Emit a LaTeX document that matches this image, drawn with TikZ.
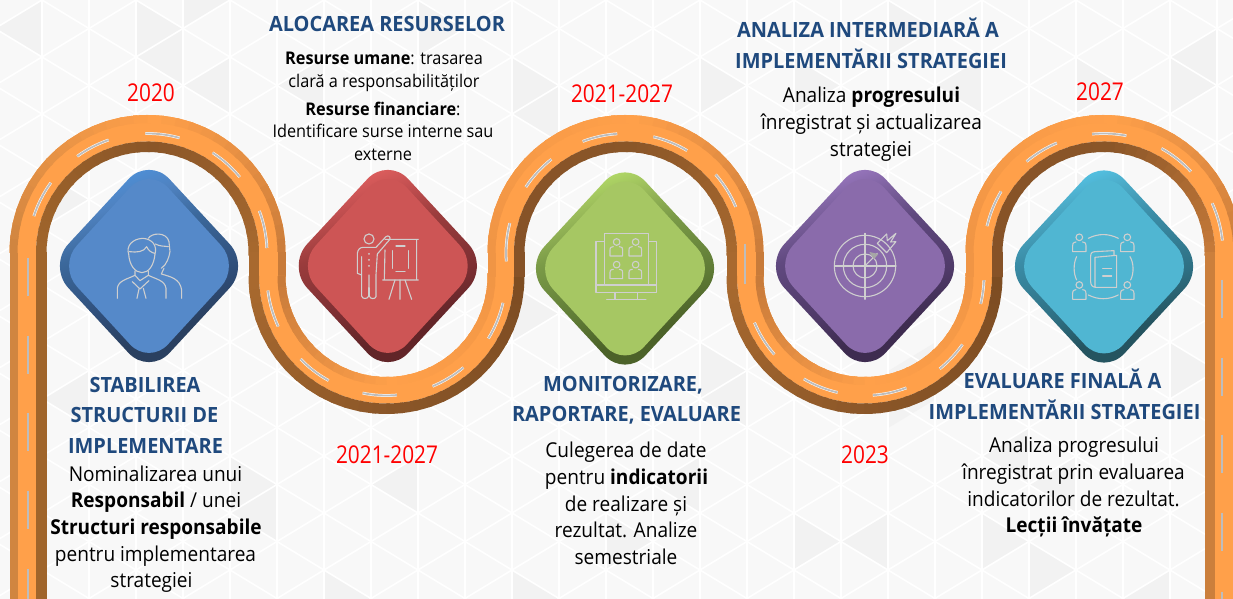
\documentclass[tikz,border=0pt]{standalone}
\usepackage{fontspec}
\setmainfont{Open Sans}[FakeStretch=0.93]
\newfontfamily\yearfont{Open Sans}[FakeStretch=0.85]
\newfontfamily\titlefont{Open Sans}[FakeStretch=0.95]
\definecolor{bgc}{HTML}{F8F8F8}
\definecolor{trc}{HTML}{F2F2F2}
\definecolor{titc}{HTML}{1F497D}
\definecolor{roadc}{HTML}{FFA04A}
\definecolor{iconc}{HTML}{CFCFCF}
\definecolor{dashc}{HTML}{BDBDBD}
\definecolor{eL}{HTML}{D08540}
\definecolor{eR}{HTML}{C87B3A}
\definecolor{eS}{HTML}{F09545}
\definecolor{bA}{HTML}{A0652B}
\definecolor{bM}{HTML}{8A5628}
\definecolor{bR}{HTML}{A8692F}
\definecolor{bD}{HTML}{7C4C22}
\definecolor{bS}{HTML}{865227}
% name, face, bright tip, upper left, upper right, lower left, lower right
\newcommand{\mybevel}[7]{%
  \definecolor{#1f}{HTML}{#2}\definecolor{#1b}{HTML}{#3}\definecolor{#1ul}{HTML}{#4}\definecolor{#1ur}{HTML}{#5}\definecolor{#1ll}{HTML}{#6}\definecolor{#1lr}{HTML}{#7}%
  \pgfdeclareverticalshading{#1sh}{100bp}{color(0bp)=(#1lr); color(34bp)=(#1lr); color(42.5bp)=(#1ll); color(57.5bp)=(#1ur); color(66bp)=(#1ul); color(73bp)=(#1b); color(100bp)=(#1b)}}
\mybevel{blue}{5589C9}{4E90D8}{4F82C0}{3B689B}{2F4D78}{2A4060}
\mybevel{red}{CD5555}{E0605F}{C24F50}{9A3C3C}{7A2E32}{622528}
\mybevel{green}{A6C763}{B4DC68}{9ABB5A}{7A9A47}{5E7A35}{4C6229}
\mybevel{purple}{8A6BAB}{9A78C0}{7E62A0}{60497F}{4F3A68}{3E2C50}
\mybevel{teal}{50B6D2}{55C4E6}{4AA8C4}{3A8CA6}{2E6F82}{255460}
% band along an arc: centre, radius, width, from, to, colours at start, middle, end
\newcommand{\roadband}[9]{%
  \foreach \i in {0,...,29}{%
    \pgfmathsetmacro{\aa}{#5+(#6-#5)*\i/30}%
    \pgfmathsetmacro{\ab}{#5+(#6-#5)*(\i+1.25)/30}%
    \pgfmathsetmacro{\pp}{\i<15 ? 100-\i*100/15 : 100-(\i-15)*100/15}%
    \ifnum\i<15 \colorlet{segc}{#7!\pp!#8}\else \colorlet{segc}{#8!\pp!#9}\fi
    \draw[line width=#4pt,segc] ({#1+#3*cos(\aa)},{#2-#3*sin(\aa)}) arc[start angle={-\aa},end angle={-\ab},radius=#3pt];
  }}
\newcommand{\jointv}[4]{% x, side, edge colour, brown colour
  \draw[line width=26.5pt,roadc] ({#1+#2*5.25},252) -- ({#1+#2*5.25},277);
  \draw[line width=8pt,#3] ({#1+#2*14.5},252) -- ({#1+#2*14.5},277);
  \draw[line width=10.5pt,#4] ({#1-#2*13.25},252) -- ({#1-#2*13.25},277);}
\newcommand{\markarc}[4]{%
  \draw[roadmark white] ({#1+119.5*cos(#3)},{#2-119.5*sin(#3)}) arc[start angle={-#3},end angle={-#4},radius=119.5pt];
  \draw[roadmark] ({#1+119.5*cos(#3)},{#2-119.5*sin(#3)}) arc[start angle={-#3},end angle={-#4},radius=119.5pt];}
\newcommand{\markv}[3]{%
  \draw[roadmark white] (#1,#2) -- (#1,#3);
  \draw[roadmark] (#1,#2) -- (#1,#3);}
\newcommand{\mydiam}[4]{% name, colour, cx, cy
  \path[shading=#2sh,shading angle=20,rounded corners=30pt] (#3-101,#4) -- (#3,#4-109) -- (#3+101,#4) -- (#3,#4+109) -- cycle;
  \path[fill=#2f,rounded corners=28pt] (#3-91,#4) -- (#3,#4-99) -- (#3+91,#4) -- (#3,#4+99) -- cycle;
  \coordinate (#1) at (#3,#4);}
\newcommand{\tline}[5]{\node[#4] (#1) at (#2,#3) {#5};}
\newcommand{\myperson}[2]{% zoom coordinates: head centre
  \draw[icon] (#1,#2) circle (10);
  \draw[icon] (#1-10,#2+14) .. controls (#1-20,#2+16) and (#1-20,#2+20) .. (#1-20,#2+25) -- (#1-20,#2+43) -- (#1+20,#2+43) -- (#1+20,#2+25) .. controls (#1+20,#2+20) and (#1+20,#2+16) .. (#1+10,#2+14);}
\tikzset{
  icon/.style={draw=iconc,line width=1.1pt,line cap=round,line join=round},
  roadmark/.style={draw=dashc,line width=1.8pt},
  roadmark white/.style={draw=white,line width=2.8pt},
  year/.style={anchor=base,text=red,font=\yearfont\fontsize{24.5}{28}\selectfont,inner sep=0pt},
  title/.style={anchor=base,text=titc,font=\titlefont\fontsize{21}{24}\selectfont\bfseries,inner sep=0pt},
  body/.style={anchor=base,text=black,font=\fontsize{20.5}{24}\selectfont,inner sep=0pt},
  small/.style={anchor=base,text=black,font=\fontsize{17.5}{21}\selectfont,inner sep=0pt},
}
\begin{document}
\begin{tikzpicture}[x=1pt,y=1pt]
\useasboundingbox (0,0) rectangle (1233,599);
\clip (0,0) rectangle (1233,599);
\begin{scope}[shift={(0,599)},yscale=-1]
\fill[bgc] (0,0) rectangle (1233,599);
% background triangles
\foreach \x/\y/\s in {136/0/1,183/28.5/-1,42/0/-1,183/-28.5/1,42/171/1,230/57/-1,324/57/-1,418/0/1,512/57/1,559/85.5/-1,606/171/1,700/57/1,794/57/1,888/0/1,982/57/-1,1076/57/1,1170/57/1,1217/28.5/-1,
  700/342/1,747/370.5/-1,889/370.5/1,936/342/-1,230/456/1,277/484.5/-1,418/456/-1,512/570/1,606/513/1,700/456/-1,794/513/1,888/513/-1,982/513/1,1076/456/-1,1170/570/-1,1029/541.5/1,1029/427.5/-1,324/570/1,89/370.5/-1,1170/342/1,1076/171/1,512/285/1,324/228/1}
  \fill[trc] (\x,\y) -- (\x+\s*47,\y+28.5) -- (\x,\y+57) -- cycle;
\foreach \i in {0,...,26}{
  \draw[white,line width=1.6pt] ({-5+47*\i},0) -- ({-5+47*\i},599);}
\foreach \j in {-14,...,11}{
  \draw[white,line width=1.6pt] (-5,{57*\j+28.5}) -- (1240,{57*\j+28.5+755});}
\foreach \j in {0,...,24}{
  \draw[white,line width=1.6pt] (-5,{57*\j+28.5}) -- (1240,{57*\j+28.5-755});}
% the road: straight run at left
\draw[line width=26.5pt,roadc] (22.75,620) -- (22.75,252);
\draw[line width=8pt,eL] (13.5,620) -- (13.5,252);
\draw[line width=10.5pt,bA] (41.25,620) -- (41.25,252);
% arch 1
\roadband{147.5}{253}{124.75}{26.5}{180}{0}{roadc}{roadc}{roadc}
\roadband{147.5}{253}{134}{8}{180}{0}{eL}{roadc}{eR}
\roadband{147.5}{253}{106.25}{10.5}{180}{0}{bA}{bM}{bR}
\jointv{267}{1}{eR}{bR}
% lower 1
\roadband{386.5}{276}{114.25}{26.5}{180}{360}{roadc}{roadc}{roadc}
\roadband{386.5}{276}{105}{8}{180}{360}{eR}{roadc}{eS}
\roadband{386.5}{276}{132.75}{10.5}{180}{360}{bR}{bM}{bD}
\jointv{506}{-1}{eS}{bS}
% arch 2
\roadband{625.5}{253}{124.75}{26.5}{180}{0}{roadc}{roadc}{roadc}
\roadband{625.5}{253}{134}{8}{180}{0}{eS}{roadc}{eR}
\roadband{625.5}{253}{106.25}{10.5}{180}{0}{bS}{bM}{bR}
\jointv{745}{1}{eR}{bR}
% lower 2
\roadband{864.5}{276}{114.25}{26.5}{180}{360}{roadc}{roadc}{roadc}
\roadband{864.5}{276}{105}{8}{180}{360}{eR}{roadc}{eS}
\roadband{864.5}{276}{132.75}{10.5}{180}{360}{bR}{bM}{bD}
\jointv{984}{-1}{eS}{bS}
% arch 3
\roadband{1103.5}{253}{124.75}{26.5}{180}{0}{roadc}{roadc}{roadc}
\roadband{1103.5}{253}{134}{8}{180}{0}{eS}{roadc}{eR}
\roadband{1103.5}{253}{106.25}{10.5}{180}{0}{bS}{bM}{eR}
% straight run at right
\draw[line width=26.5pt,roadc] (1228.25,252) -- (1228.25,620);
\draw[line width=10.5pt,eR!60!eL] (1209.75,252) -- (1209.75,620);
% road markings
\foreach \a/\b in {162/144,126/109,91/74.5,57/39.5,20.6/2.4}{\markarc{147.5}{253}{\a}{\b}}
\foreach \a/\b in {187/205,224/241,258.5/275,292.7/310,328.5/347}{\markarc{386.5}{276}{\a}{\b}}
\foreach \a/\b in {184/165.5,146.5/128.4,111/94,76.5/59,41/22.7}{\markarc{625.5}{253}{\a}{\b}}
\markv{745}{244}{284}
\foreach \a/\b in {203/221,239.5/257,274/290.5,309/325,346.5/358}{\markarc{864.5}{276}{\a}{\b}}
\foreach \a/\b in {167/149,130/113,95.5/79,61/43,24.6/6}{\markarc{1103.5}{253}{\a}{\b}}
\foreach \y in {258,336,413,491,569}{\markv{28}{\y}{\y+38}}
\foreach \y in {280,358,435,513,592}{\markv{1222}{\y}{\y+38}}
% diamonds
\mydiam{dA}{blue}{149}{266}
\mydiam{dB}{red}{387.8}{266}
\mydiam{dC}{green}{625}{268.5}
\mydiam{dD}{purple}{865}{266}
\mydiam{dE}{teal}{1104}{266.5}
% icon: two people
\begin{scope}[shift={(0,90)},x=.3333pt,y=.3333pt]
\draw[icon] (386,492) .. controls (378,470) and (395,447) .. (428,445) .. controls (458,447) and (472,468) .. (465,492);
\draw[icon] (386,492) .. controls (388,525) and (405,548) .. (426,548) .. controls (447,548) and (462,525) .. (465,492);
\draw[icon] (388,485) .. controls (410,488) and (432,486) .. (440,470) .. controls (445,482) and (455,488) .. (464,490);
\draw[icon] (352,625) -- (352,595) .. controls (355,572) and (380,568) .. (405,556) -- (405,543);
\draw[icon] (445,543) -- (445,556) .. controls (470,568) and (495,572) .. (498,595) -- (498,625);
\draw[icon] (397,575) -- (420,597) -- (447,572);
\draw[icon] (405,556) -- (420,572) -- (445,556);
\draw[icon] (417,597) -- (411,625);
\draw[icon] (430,595) -- (438,625);
\draw[icon] (445,445) .. controls (455,428) and (500,425) .. (507,455) -- (510,485) .. controls (508,500) and (500,525) .. (484,535);
\draw[icon] (466,462) .. controls (480,470) and (495,468) .. (505,470);
\draw[icon] (492,535) -- (484,552) .. controls (510,560) and (540,565) .. (545,600) -- (545,625);
\end{scope}
% icon: presenter
\begin{scope}[shift={(290,160)},x=.3333pt,y=.3333pt]
\draw[icon] (237,237) circle (15);
\draw[icon] (215,345) -- (215,290) (202,340) -- (202,280) .. controls (204,268) and (210,262) .. (220,262) -- (258,262) -- (288,230) .. controls (295,224) and (305,232) .. (298,240) -- (262,282) -- (258,345) -- (258,410) .. controls (256,418) and (240,418) .. (238,408) -- (237,345) -- (236,408) .. controls (234,418) and (216,418) .. (215,408) -- (215,345) -- (202,340);
\foreach \y in {282,300,318}{\fill[iconc] (237,\y) circle (3);}
\draw[icon] (285,238) -- (385,238) (380,238) -- (380,358) (285,270) -- (283,358) (278,360) -- (385,360);
\draw[icon] (308,272) -- (308,325) (355,272) -- (355,325) (318,258) -- (345,258) (318,335) -- (345,335);
\draw[icon] (330,360) -- (330,418) (315,360) -- (297,418) (345,360) -- (365,418);
\end{scope}
% icon: monitor
\begin{scope}[shift={(290,160)},x=.3333pt,y=.3333pt]
\draw[icon] (942,245) -- (918,245) -- (918,397) -- (1100,397) -- (1100,245) -- (1075,245);
\draw[icon] (943,220) rectangle (1075,375);
\draw[icon] (918,375) -- (943,375) (1075,375) -- (1100,375);
\draw[icon] (975,397) -- (975,417) (1043,397) -- (1043,417) (950,418) -- (1068,418);
\foreach \hx/\hy in {980/246,1037/246,980/314,1037/314}{
  \draw[icon] (\hx,\hy) circle (10);
  \draw[icon] (\hx-10,\hy+14) .. controls (\hx-20,\hy+16) and (\hx-20,\hy+18) .. (\hx-20,\hy+24) -- (\hx-20,\hy+42) -- (\hx+18,\hy+42) -- (\hx+18,\hy+24) .. controls (\hx+18,\hy+18) and (\hx+18,\hy+16) .. (\hx+8,\hy+14);}
\end{scope}
% icon: target
\begin{scope}[shift={(770,100)},x=.3333pt,y=.3333pt]
\draw[icon] (285,498) circle (92) (285,498) circle (65) (285,498) circle (36);
\draw[icon] (285,400) -- (285,598) (193,498) -- (378,498);
\draw[icon] (285,498) -- (322,460);
\fill[gray!70] (298,456) -- (325,462) -- (312,478) -- cycle;
\draw[icon] (322,430) -- (350,402) -- (352,422) -- (378,400) -- (362,426) -- (378,425) -- (350,458) -- cycle;
\end{scope}
% icon: book and four people
\begin{scope}[shift={(770,100)},x=.3333pt,y=.3333pt]
\myperson{928}{412}\myperson{1072}{412}\myperson{928}{555}\myperson{1072}{555}
\draw[icon] (955,415) .. controls (985,400) and (1015,400) .. (1045,415);
\draw[icon] (955,585) .. controls (985,600) and (1015,600) .. (1045,585);
\draw[icon] (920,470) .. controls (910,490) and (910,520) .. (920,540);
\draw[icon] (1080,470) .. controls (1092,490) and (1092,520) .. (1082,540);
\draw[icon] (975,455) .. controls (965,456) and (962,460) .. (962,470) -- (962,545) .. controls (962,556) and (968,562) .. (978,562) -- (1040,562) -- (1040,466) -- (975,472) -- (975,562);
\draw[icon] (975,455) -- (1032,452) -- (1032,466);
\draw[icon] (998,505) -- (1025,505) (998,528) -- (1025,528);
\end{scope}
% years
\tline{y1}{151}{102}{year}{2020}
\tline{y2}{622}{103}{year}{2021-2027}
\tline{y3}{1100}{101}{year}{2027}
\tline{y4}{387}{464}{year}{2021-2027}
\tline{y5}{865}{464}{year}{2023}
% stabilirea
\tline{a1}{145}{393}{title}{STABILIREA}
\tline{a2}{144.5}{423}{title}{STRUCTURII DE}
\tline{a3}{145.5}{454}{title}{IMPLEMENTARE}
\tline{a4}{155.5}{481.5}{body}{Nominalizarea unui}
\tline{a5}{156}{508}{body}{\textbf{Responsabil} / unei}
\tline{a6}{156}{535}{body}{\textbf{Structuri responsabile}}
\tline{a7}{155.5}{561.5}{body}{pentru implementarea}
\tline{a8}{151.5}{588}{body}{strategiei}
% alocarea
\tline{b1}{387}{32}{title}{ALOCAREA RESURSELOR}
\tline{b2}{384}{65}{small}{\textbf{Resurse umane}: trasarea}
\tline{b3}{384}{88}{small}{clară a responsabilităților}
\tline{b4}{383}{115.5}{small}{\textbf{Resurse financiare}:}
\tline{b5}{383}{138}{small}{Identificare surse interne sau}
\tline{b6}{383}{161}{small}{externe}
% monitorizare
\tline{c1}{623}{391.5}{title}{MONITORIZARE,}
\tline{c2}{626.5}{421.5}{title}{RAPORTARE, EVALUARE}
\tline{c3}{626}{458}{body}{Culegerea de date}
\tline{c4}{626.5}{485}{body}{pentru \textbf{indicatorii}}
\tline{c5}{626}{511.5}{body}{de realizare și}
\tline{c6}{626}{538}{body}{rezultat. Analize}
\tline{c7}{626}{565}{body}{semestriale}
% analiza
\tline{d1}{868}{38}{title}{ANALIZA INTERMEDIARĂ A}
\tline{d2}{871}{69}{title}{IMPLEMENTĂRII STRATEGIEI}
\tline{d3}{871.5}{103}{body}{Analiza \textbf{progresului}}
\tline{d4}{871.5}{130}{body}{înregistrat și actualizarea}
\tline{d5}{871}{156.5}{body}{strategiei}
% evaluare
\tline{e1}{1062.5}{389}{title}{EVALUARE FINALĂ A}
\tline{e2}{1064.5}{420}{title}{IMPLEMENTĂRII STRATEGIEI}
\tline{e3}{1074}{453}{body}{Analiza progresului}
\tline{e4}{1073.5}{480}{body}{înregistrat prin evaluarea}
\tline{e5}{1073.5}{506.5}{body}{indicatorilor de rezultat.}
\tline{e6}{1074}{533}{body}{\textbf{Lecții învățate}}
\end{scope}
\end{tikzpicture}
\end{document}
